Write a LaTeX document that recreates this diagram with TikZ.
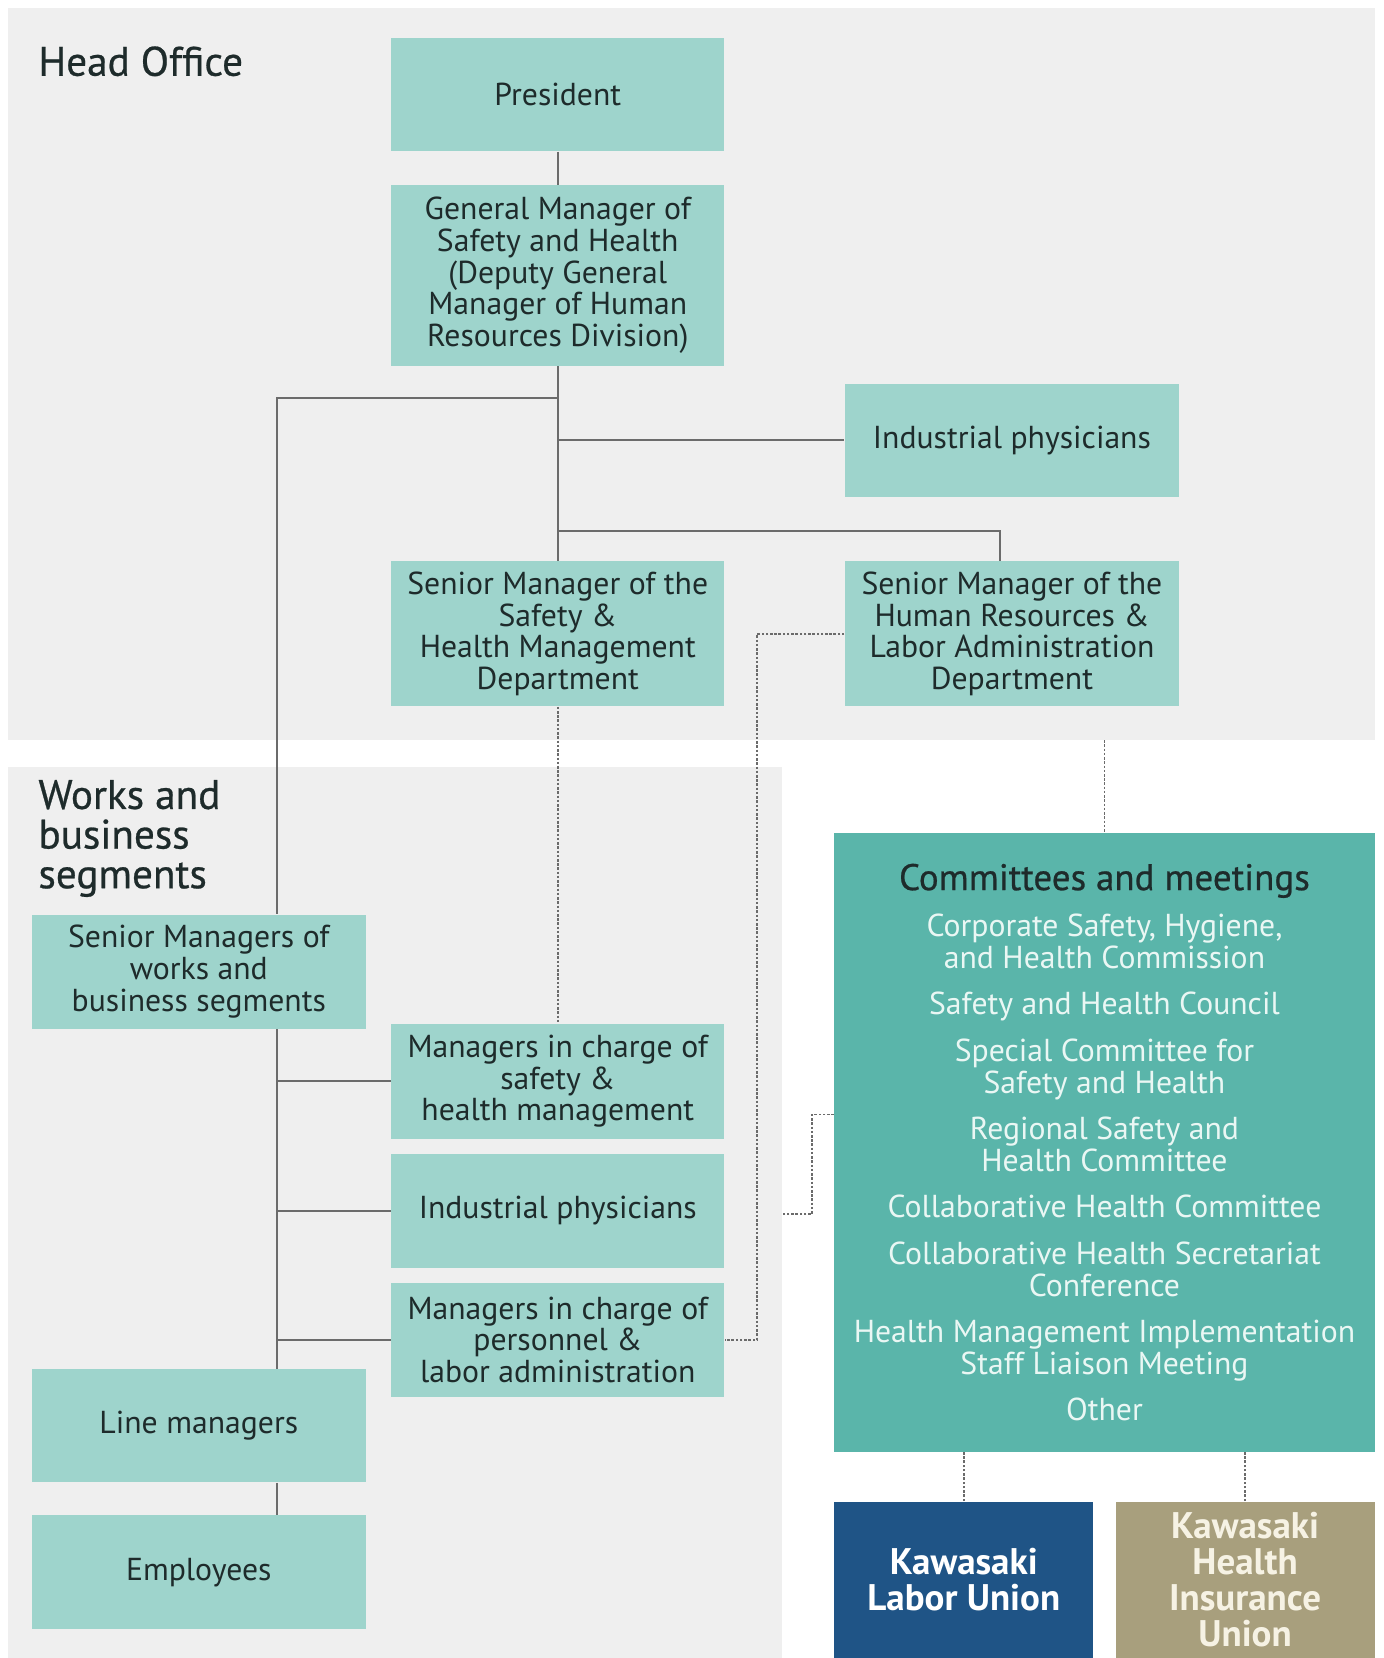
\documentclass[tikz,border=0pt]{standalone}
\usepackage{fontspec}
\setmainfont{PT Sans}
\newfontfamily\semib[FakeBold=0.6]{PT Sans}
\usetikzlibrary{calc}
\definecolor{panel}{RGB}{239,239,239}
\definecolor{lteal}{RGB}{158,212,204}
\definecolor{dteal}{RGB}{90,181,170}
\definecolor{navyu}{RGB}{31,84,134}
\definecolor{khaki}{RGB}{168,159,125}
\definecolor{dtext}{RGB}{30,43,43}
\definecolor{citem}{RGB}{234,247,244}
\definecolor{lcol}{RGB}{107,107,107}
\begin{document}
\begin{tikzpicture}[x=0.5pt,y=-0.5pt,
  box/.style={fill=lteal, text=dtext, align=center, inner sep=0pt, minimum width=157.5pt,
    font=\fontsize{15}{15}\selectfont},
  conn/.style={draw=lcol, line width=1pt},
  dotc/.style={draw=lcol, line width=0.8pt, dash pattern=on 1.2pt off 0.8pt},
  head/.style={anchor=west, align=left, text=dtext, inner sep=0pt, font=\semib\fontsize{19.5}{18.75}\selectfont},
  union/.style={inner sep=0pt, align=center, font=\bfseries\fontsize{17.5}{17}\selectfont, minimum width=122.5pt, minimum height=74pt}]
\useasboundingbox (0,0) rectangle (1308,1568);
\fill[white] (0,0) rectangle (1308,1568);
% panels
\fill[panel] (8,8) rectangle (1300,700);
\fill[panel] (8,725) rectangle (740,1568);
% headings
\node[head] (hhead) at (36,58) {Head Office};
\node[head] (whead) at (36,793) {Works and\\business\\segments};
% boxes
\node[box, minimum height=53.5pt] (pres) at (527.5,89.5) {President};
\node[box, minimum height=85.5pt] (gm) at (527.5,260.5) {General Manager of\\Safety and Health\\(Deputy General\\Manager of Human\\Resources Division)};
\node[box, minimum height=53.5pt, minimum width=158pt] (ipho) at (957,416.5) {Industrial physicians};
\node[box, minimum height=68.5pt] (smsh) at (527.5,599.5) {Senior Manager of the\\Safety \&\\Health Management\\Department};
\node[box, minimum height=68.5pt, minimum width=158pt] (smhr) at (957,599.5) {Senior Manager of the\\Human Resources \&\\Labor Administration\\Department};
\node[box, minimum height=54pt, minimum width=158pt] (smw) at (188,919) {Senior Managers of\\works and\\business segments};
\node[box, minimum height=54.5pt] (mcs) at (527.5,1022.5) {Managers in charge of\\safety \&\\health management};
\node[box, minimum height=54pt] (ipw) at (527.5,1145) {Industrial physicians};
\node[box, minimum height=54pt] (mcp) at (527.5,1267) {Managers in charge of\\personnel \&\\labor administration};
\node[box, minimum height=53.5pt, minimum width=158pt] (lm) at (188,1348.5) {Line managers};
\node[box, minimum height=54pt, minimum width=158pt] (emp) at (188,1487) {Employees};
% committees
\node[fill=dteal, text=citem, align=center, inner sep=0pt, minimum width=255.5pt, minimum height=292.5pt,
  font=\fontsize{15}{15}\selectfont] (com) at (1044.5,1080.5)
  {{\semib\color{dtext}\fontsize{17.5}{17}\selectfont Committees and meetings}\\[7pt]
   Corporate Safety, Hygiene,\\and Health Commission\\[7pt]
   Safety and Health Council\\[7pt]
   Special Committee for\\Safety and Health\\[7pt]
   Regional Safety and\\Health Committee\\[7pt]
   Collaborative Health Committee\\[7pt]
   Collaborative Health Secretariat\\Conference\\[7pt]
   Health Management Implementation\\Staff Liaison Meeting\\[7pt]
   Other};
% unions
\node[union, fill=navyu, text=white] (klu) at (911.5,1494) {Kawasaki\\Labor Union};
\node[union, fill=khaki, text={rgb,255:red,246;green,242;blue,228}] (khi) at (1177.5,1494) {Kawasaki\\Health\\Insurance\\Union};
% helper coordinates
\coordinate (vx) at (262,0);
\coordinate (hy1) at (0,376);
\coordinate (hy2) at (0,502);
\coordinate (hrx) at (946,0);
\coordinate (dx) at (716,0);
\coordinate (pb) at (0,700);
\coordinate (cy1) at (0,1054);
\coordinate (cx) at (768,0);
\coordinate (cy2) at (0,1148);
\coordinate (pe) at (740,0);
% solid connectors
\draw[conn] (pres.south) -- (gm.north);
\draw[conn] (gm.south) -- (smsh.north);
\draw[conn] (gm.south |- hy1) -| (smw.north -| vx);
\draw[conn] (gm.south |- ipho.west) -- (ipho.west);
\draw[conn] (gm.south |- hy2) -| (smhr.north -| hrx);
\draw[conn] (smw.south -| vx) -- (lm.north -| vx);
\draw[conn] (vx |- mcs.west) -- (mcs.west);
\draw[conn] (vx |- ipw.west) -- (ipw.west);
\draw[conn] (vx |- mcp.west) -- (mcp.west);
\draw[conn] (lm.south -| vx) -- (emp.north -| vx);
% dotted connectors
\draw[dotc] (smsh.south) -- (mcs.north);
\draw[dotc] (smhr.west) -| (dx |- mcp.east) -- (mcp.east);
\draw[dotc] (com.north |- pb) -- (com.north);
\draw[dotc] (com.west |- cy1) -| (cx |- cy2) -- (pe |- cy2);
\draw[dotc] (klu.north) -- (klu.north |- com.south);
\draw[dotc] (khi.north) -- (khi.north |- com.south);
\end{tikzpicture}
\end{document}
